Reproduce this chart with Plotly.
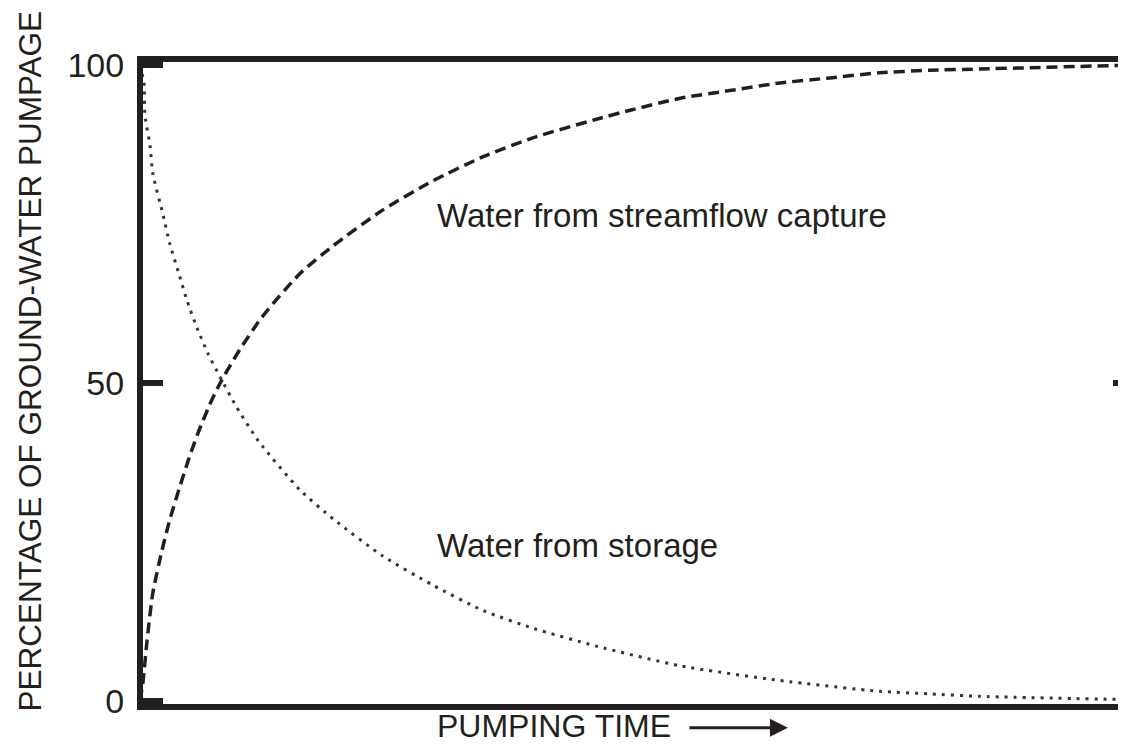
import plotly.graph_objects as go

# Pumping time (arbitrary units) and percentage of ground-water pumpage
capture_time = [0, 0.3, 0.7, 1.3, 2.2, 3.0, 4.1, 5.1, 6.1, 7.3, 8.3, 10.1, 12.0, 12.9,
                16.2, 19.6, 24.6, 29.7, 34.8, 39.9, 46.3, 49.7, 54.8, 59.8, 64.9,
                70.0, 75.0, 80.1, 85.2, 90.3, 100]
capture_pct = [0, 3, 9.3, 17, 23.5, 28.4, 34, 38.8, 43.0, 47.4, 50.5, 55.2, 59.6, 61.4,
               67.2, 71.6, 77.2, 81.8, 85.6, 88.6, 91.5, 92.9, 94.8, 96, 97.2,
               98, 98.8, 99.2, 99.4, 99.6, 100]

storage_time = [0, 0.4, 0.5, 1.0, 1.3, 2.3, 3.0, 3.9, 4.8, 5.8, 6.9, 8.1, 9.8, 12.0,
                16.2, 19.6, 24.6, 29.7, 34.8, 39.9, 46.3, 54.8, 64.9, 75.0, 80.1,
                85.2, 100]
storage_pct = [100, 97.2, 92, 87.5, 82.9, 76.7, 72, 67.4, 62.8, 58.6, 54.6, 51, 46.2, 40.9,
               33.2, 28.6, 22.8, 18.2, 14.2, 11.4, 8.6, 5.5, 3.2, 1.5, 1.1,
               0.7, 0.2]

y_ticks = [0, 50, 100]
y_tick_labels = ["0", "50", "100"]

INK = "#231f20"
FONT = "Liberation Sans, Arial, Helvetica, sans-serif"

fig = go.Figure()
fig.add_trace(go.Scatter(x=storage_time, y=storage_pct, mode="lines",
                         line=dict(color="#333333", width=3, dash="3px,6px", shape="spline",
                                   smoothing=0.6),
                         showlegend=False, hoverinfo="skip"))
fig.add_trace(go.Scatter(x=capture_time, y=capture_pct, mode="lines", yaxis="y2",
                         line=dict(color=INK, width=3.5, dash="11px,6px", shape="spline",
                                   smoothing=0.6),
                         showlegend=False, hoverinfo="skip"))

# the page body adds an 8px margin, so the figure is sized to fit the window exactly
fig.update_layout(
    width=1110, height=738,
    margin=dict(l=135, r=0, t=54, b=42),
    paper_bgcolor="white", plot_bgcolor="white",
    font=dict(family=FONT, color=INK),
    xaxis=dict(range=[0.3, 99.2], showline=True, linecolor=INK, linewidth=6,
               mirror=True, ticks="", showticklabels=False, showgrid=False,
               zeroline=False, automargin=False),
    yaxis=dict(range=[-0.5, 100.5], showline=True, linecolor=INK, linewidth=6,
               ticks="inside", ticklen=20, tickwidth=6, tickcolor=INK,
               tickvals=y_ticks, ticktext=y_tick_labels, ticklabelstandoff=6,
               tickfont=dict(size=34, color=INK, family=FONT),
               showgrid=False, zeroline=False, automargin=False),
    yaxis2=dict(range=[-0.5, 100.5], overlaying="y", side="right", anchor="free",
                position=1, showline=False, ticks="inside", ticklen=5, tickwidth=6,
                tickcolor=INK, tickvals=[50], showticklabels=False,
                showgrid=False, zeroline=False, automargin=False),
    annotations=[
        dict(text="PERCENTAGE OF GROUND-WATER PUMPAGE", textangle=-90,
             xref="paper", yref="paper", x=-0.1159, y=0.535,
             xanchor="center", yanchor="middle", showarrow=False,
             font=dict(size=31.5, color=INK, family=FONT)),
        dict(text="PUMPING TIME", xref="paper", yref="paper", x=0.2995, y=-0.034,
             xanchor="left", yanchor="middle", showarrow=False,
             font=dict(size=32, color=INK, family=FONT)),
        dict(text="", xref="paper", yref="paper", x=0.6615, y=-0.037,
             showarrow=True, ax=-100, ay=0, arrowhead=2, arrowsize=1.2,
             arrowwidth=3, arrowcolor=INK),
        dict(text="Water from streamflow capture", xref="x", yref="y",
             x=29.9, y=76.4, xanchor="left", yanchor="middle", showarrow=False,
             font=dict(size=33, color=INK, family=FONT)),
        dict(text="Water from storage", xref="x", yref="y",
             x=29.9, y=24.5, xanchor="left", yanchor="middle", showarrow=False,
             font=dict(size=33, color=INK, family=FONT)),
    ],
)

fig.write_html("out.html")
